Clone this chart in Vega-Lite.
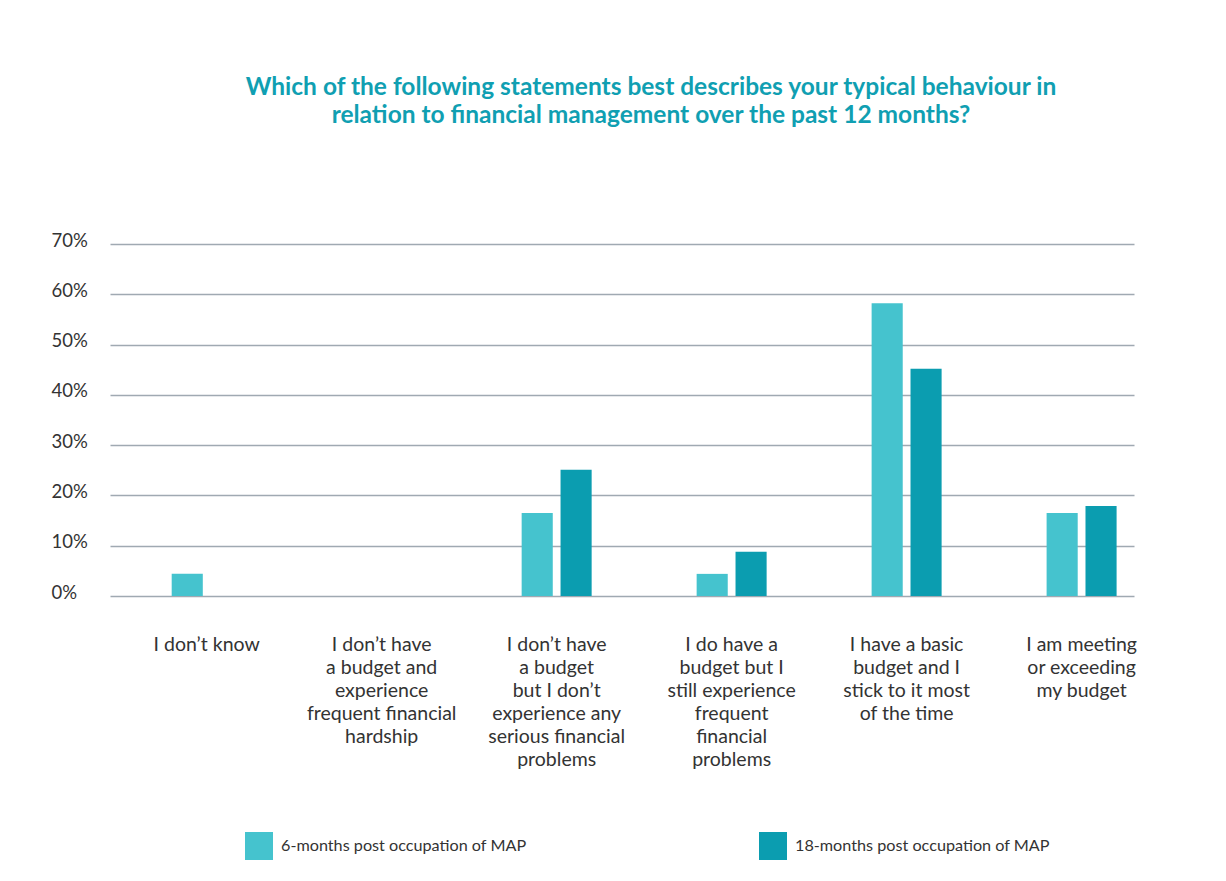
{
  "$schema": "https://vega.github.io/schema/vega-lite/v6.json",
  "width": 1024,
  "height": 352,
  "autosize": "none",
  "padding": {"left": 110, "top": 244, "right": 92, "bottom": 285},
  "background": "white",
  "config": {
    "view": {"stroke": null},
    "font": "Lato",
    "text": {"font": "Lato"}
  },
  "title": {
    "text": ["Which of the following statements best describes your typical behaviour in", "relation to financial management over the past 12 months?"],
    "font": "Lato",
    "fontSize": 24.5,
    "fontWeight": "bold",
    "color": "#109fb2",
    "anchor": "middle",
    "frame": "group",
    "dx": 29,
    "lineHeight": 28,
    "offset": 103
  },
  "data": {
    "values": [
      {"cat": "I don’t know", "series": "6-months post occupation of MAP", "value": 0.044},
      {"cat": "I don’t know", "series": "18-months post occupation of MAP", "value": 0},
      {"cat": "I don’t have|a budget and|experience|frequent financial|hardship", "series": "6-months post occupation of MAP", "value": 0},
      {"cat": "I don’t have|a budget and|experience|frequent financial|hardship", "series": "18-months post occupation of MAP", "value": 0},
      {"cat": "I don’t have|a budget|but I don’t|experience any|serious financial|problems", "series": "6-months post occupation of MAP", "value": 0.165},
      {"cat": "I don’t have|a budget|but I don’t|experience any|serious financial|problems", "series": "18-months post occupation of MAP", "value": 0.251},
      {"cat": "I do have a|budget but I|still experience|frequent|financial|problems", "series": "6-months post occupation of MAP", "value": 0.044},
      {"cat": "I do have a|budget but I|still experience|frequent|financial|problems", "series": "18-months post occupation of MAP", "value": 0.088},
      {"cat": "I have a basic|budget and I|stick to it most|of the time", "series": "6-months post occupation of MAP", "value": 0.582},
      {"cat": "I have a basic|budget and I|stick to it most|of the time", "series": "18-months post occupation of MAP", "value": 0.452},
      {"cat": "I am meeting|or exceeding|my budget", "series": "6-months post occupation of MAP", "value": 0.165},
      {"cat": "I am meeting|or exceeding|my budget", "series": "18-months post occupation of MAP", "value": 0.179}
    ]
  },
  "mark": {"type": "bar"},
  "encoding": {
    "x": {
      "field": "cat",
      "type": "nominal",
      "sort": null,
      "scale": {"paddingInner": 0.6, "paddingOuter": 0.226, "align": 0.78},
      "axis": {
        "title": null,
        "domain": false,
        "ticks": false,
        "labelAngle": 0,
        "labelExpr": "split(datum.label, '|')",
        "labelFont": "Lato",
        "labelFontSize": 19.5,
        "labelColor": "#333333",
        "labelLineHeight": 23,
        "labelPadding": 39,
        "labelLimit": 300
      }
    },
    "xOffset": {
      "field": "series",
      "type": "nominal",
      "sort": ["6-months post occupation of MAP", "18-months post occupation of MAP"],
      "scale": {"paddingInner": 0.2, "paddingOuter": 0}
    },
    "y": {
      "field": "value",
      "type": "quantitative",
      "scale": {"domain": [0, 0.7]},
      "axis": {
        "title": null,
        "format": ".0%",
        "values": [0, 0.1, 0.2, 0.3, 0.4, 0.5, 0.6, 0.7],
        "domain": false,
        "ticks": false,
        "grid": true,
        "gridColor": "#a0a9b2",
        "gridWidth": 1.6,
        "labelAlign": "left",
        "labelBaseline": "alphabetic",
        "labelOffset": 2,
        "labelPadding": 59,
        "labelFont": "Lato",
        "labelFontSize": 18.5,
        "labelColor": "#333333"
      }
    },
    "color": {
      "field": "series",
      "type": "nominal",
      "scale": {
        "domain": ["6-months post occupation of MAP", "18-months post occupation of MAP"],
        "range": ["#45c3ce", "#0b9db0"]
      },
      "legend": {
        "title": null,
        "orient": "none",
        "legendX": 135,
        "legendY": 588,
        "direction": "horizontal",
        "symbolType": "square",
        "symbolSize": 784,
        "symbolStrokeWidth": 0,
        "labelFont": "Lato",
        "labelFontSize": 16.2,
        "labelColor": "#333333",
        "labelOffset": 8,
        "columnPadding": 232,
        "padding": 0,
        "labelLimit": 400
      }
    }
  }
}
